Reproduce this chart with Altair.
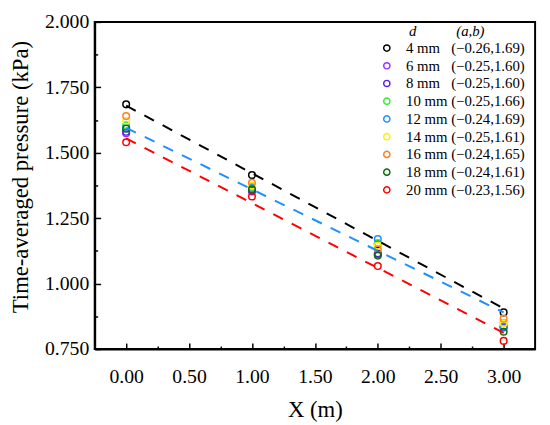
import altair as alt
import pandas as pd

NB = "\u00a0"

# ---- data ----
x_pos = [0.0, 1.0, 2.0, 3.0]

d_labels = [
    f"4{NB}mm{NB}{NB}{NB}(−0.26,1.69)",
    f"6{NB}mm{NB}{NB}{NB}(−0.25,1.60)",
    f"8{NB}mm{NB}{NB}{NB}(−0.25,1.60)",
    f"10{NB}mm{NB}(−0.25,1.66)",
    f"12{NB}mm{NB}(−0.24,1.69)",
    f"14{NB}mm{NB}(−0.25,1.61)",
    f"16{NB}mm{NB}(−0.24,1.65)",
    f"18{NB}mm{NB}(−0.24,1.61)",
    f"20{NB}mm{NB}(−0.23,1.56)",
]
d_colors = ["#000000", "#9b30ff", "#5a1fe6", "#33ee33", "#1e90ff",
            "#fff000", "#ff7f1e", "#0b6b0b", "#ff0000"]

p_4mm = [1.685, 1.415, 1.150, 0.890]
p_6mm = [1.575, 1.352, 1.112, 0.835]
p_8mm = [1.580, 1.355, 1.115, 0.832]
p_10mm = [1.605, 1.370, 1.155, 0.850]
p_12mm = [1.595, 1.365, 1.170, 0.835]
p_14mm = [1.622, 1.375, 1.145, 0.848]
p_16mm = [1.640, 1.385, 1.130, 0.866]
p_18mm = [1.592, 1.360, 1.107, 0.816]
p_20mm = [1.540, 1.333, 1.067, 0.781]
series = [p_4mm, p_6mm, p_8mm, p_10mm, p_12mm, p_14mm, p_16mm, p_18mm, p_20mm]

# dashed fit lines (end points)
fit_names = ["black", "blue", "red"]
fit_colors = ["#000000", "#1e90ff", "#ff0000"]
fit_x = [0.0, 3.0]
fit_start = [1.680, 1.595, 1.555]
fit_end = [0.905, 0.890, 0.812]

x_ticks = [0.0, 0.5, 1.0, 1.5, 2.0, 2.5, 3.0]
x_minor = [0.25, 0.75, 1.25, 1.75, 2.25, 2.75]
y_ticks = [0.75, 1.0, 1.25, 1.5, 1.75, 2.0]
y_minor = [0.875, 1.125, 1.375, 1.625, 1.875]

# ---- tables ----
rows = []
for lab, vals in zip(d_labels, series):
    for xv, pv in zip(x_pos, vals):
        rows.append({"X": xv, "P": pv, "d": lab})
df_pts = pd.DataFrame(rows)

lrows = []
for nm, col, s, e in zip(fit_names, fit_colors, fit_start, fit_end):
    lrows.append({"X": fit_x[0], "P": s, "fit": nm, "c": col})
    lrows.append({"X": fit_x[1], "P": e, "fit": nm, "c": col})
df_lines = pd.DataFrame(lrows)

FONT = "Liberation Serif"
xscale = alt.Scale(domain=[-0.25, 3.25], nice=False, zero=False)
yscale = alt.Scale(domain=[0.75, 2.0], nice=False, zero=False)

title_txt = "\u200b\u2003\u2003d\u2003\u2003\u2002\u2009(a,b)"

points = alt.Chart(df_pts).mark_point(filled=False, size=45, strokeWidth=1.5, opacity=1).encode(
    x=alt.X("X:Q", scale=xscale, axis=alt.Axis(
        orient="bottom", values=x_ticks, format=".2f", ticks=False, tickSize=0,
        labelFontSize=20, labelPadding=18, labelFont=FONT, labelColor="black",
        title="X (m)", titleFont=FONT, titleFontSize=23, titleFontWeight="normal",
        titleColor="black", titlePadding=12, domainColor="black", domainWidth=2,
        grid=False)),
    y=alt.Y("P:Q", scale=yscale, axis=alt.Axis(
        orient="left", values=y_ticks, format=".3f", ticks=False, tickSize=0,
        labelFontSize=20, labelPadding=6, labelFont=FONT, labelColor="black",
        title="Time-averaged pressure (kPa)", titleFont=FONT, titleFontSize=23,
        titleFontWeight="normal", titleColor="black", titlePadding=12, titleY=157,
        domainColor="black", domainWidth=2, grid=False)),
    color=alt.Color("d:N", scale=alt.Scale(domain=d_labels, range=d_colors),
                    legend=alt.Legend(
                        title=title_txt, orient="none", legendX=289, legendY=2,
                        titleFont=FONT, titleFontSize=15, titleFontStyle="italic",
                        titleFontWeight="normal", titleColor="black", titlePadding=2,
                        titleAnchor="start",
                        labelFont=FONT, labelFontSize=15, labelColor="black",
                        labelOffset=12, rowPadding=2, padding=0,
                        symbolType="circle", symbolSize=40, symbolStrokeWidth=1.5,
                        labelLimit=300)),
)

lines = alt.Chart(df_lines).mark_line(strokeDash=[11, 10], strokeWidth=2).encode(
    x=alt.X("X:Q", scale=xscale, axis=alt.Axis(
        orient="bottom", values=x_ticks, offset=-6, tickSize=6, tickWidth=1.5,
        tickColor="black", labels=False, domain=False, grid=False, title=None)),
    y=alt.Y("P:Q", scale=yscale, axis=alt.Axis(
        orient="left", values=y_ticks, offset=-6, tickSize=6, tickWidth=1.5,
        tickColor="black", labels=False, domain=False, grid=False, title=None)),
    color=alt.Color("c:N", scale=None),
    detail="fit:N",
)

minor = alt.Chart(df_lines).mark_line(opacity=0).encode(
    x=alt.X("X:Q", scale=xscale, axis=alt.Axis(
        orient="bottom", values=x_minor, offset=-3, tickSize=3, tickWidth=1.5,
        tickColor="black", labels=False, domain=False, grid=False, title=None)),
    y=alt.Y("P:Q", scale=yscale, axis=alt.Axis(
        orient="left", values=y_minor, offset=-3, tickSize=3, tickWidth=1.5,
        tickColor="black", labels=False, domain=False, grid=False, title=None)),
    detail="fit:N",
)

chart = alt.layer(points, lines, minor).resolve_axis(
    x="independent", y="independent"
).resolve_scale(color="independent").properties(
    width=447, height=332,
    autosize=alt.AutoSizeParams(type="none"),
    padding={"left": 88, "top": 11, "right": 7, "bottom": 74},
).configure(
    background="white", font=FONT
).configure_view(
    stroke="black", strokeWidth=2
).configure_axis(
    labelFont=FONT, titleFont=FONT
).configure_legend(
    labelFont=FONT, titleFont=FONT
)

chart.save("out.html", embed_options={"renderer": "svg", "actions": False})
